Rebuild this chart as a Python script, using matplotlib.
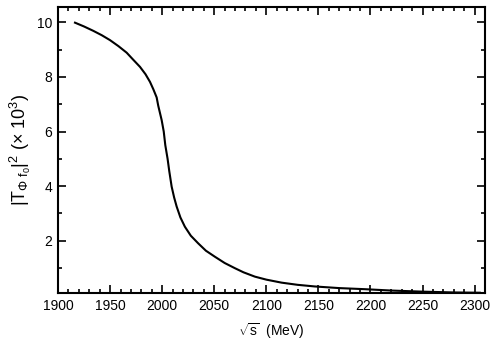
import matplotlib
matplotlib.use("Agg")
import matplotlib.pyplot as plt
from matplotlib.ticker import MultipleLocator

plt.rcParams['font.family'] = ['Liberation Sans', 'DejaVu Sans']
plt.rcParams['mathtext.fontset'] = 'custom'
plt.rcParams['mathtext.rm'] = 'Liberation Sans'
plt.rcParams['mathtext.it'] = 'Liberation Sans:italic'
plt.rcParams['mathtext.sf'] = 'Liberation Sans'

sqrt_s = [1916.3, 1925.0, 1933.9, 1942.0, 1949.9, 1958.0, 1965.9, 1972.0, 1978.7,
          1984.0, 1988.3, 1991.5, 1994.7, 1996.2, 1999.5, 2001.5, 2003.0, 2005.2,
          2006.8, 2009.1, 2011.5, 2013.9, 2017.5, 2021.8, 2027.5, 2034.6, 2042.0,
          2050.6, 2060.0, 2069.8, 2078.0, 2089.0, 2100.0, 2114.6, 2130.0, 2146.5,
          2170.0, 2194.5, 2220.0, 2250.0, 2280.0, 2305.0]
t2 = [9.99, 9.85, 9.69, 9.53, 9.35, 9.13, 8.89, 8.64, 8.37,
      8.10, 7.82, 7.55, 7.25, 6.95, 6.42, 6.00, 5.50, 5.00,
      4.55, 3.98, 3.58, 3.25, 2.85, 2.51, 2.18, 1.90, 1.63,
      1.41, 1.18, 0.99, 0.84, 0.68, 0.57, 0.46, 0.38, 0.32,
      0.26, 0.22, 0.17, 0.13, 0.10, 0.09]

fig = plt.figure(figsize=(4.98, 3.52), dpi=100)
ax = fig.add_axes([0.1165, 0.1676, 0.974 - 0.1165, 0.979 - 0.1676])
ax.plot(sqrt_s, t2, color='black', lw=1.5, solid_joinstyle='round')

ax.set_xlim(1900, 2310)
ax.set_ylim(0.08, 10.55)
ax.xaxis.set_major_locator(MultipleLocator(50))
ax.xaxis.set_minor_locator(MultipleLocator(10))
ax.set_yticks([2, 4, 6, 8, 10])
ax.yaxis.set_minor_locator(MultipleLocator(1))
ax.tick_params(which='both', direction='in', top=True, right=True, width=1.2,
               labelsize=10, pad=4)
ax.tick_params(which='major', length=6)
ax.tick_params(which='minor', length=3)
for s in ax.spines.values():
    s.set_linewidth(1.5)

ax.set_xlabel(r'$\sqrt{\mathrm{s}}$  (MeV)', fontsize=10, labelpad=6)
ax.set_ylabel(r'$|\mathrm{T}_{\mathit{\Phi}\ \mathrm{f}_{0}}|^{2}\ (\times\ 10^{3})$',
              fontsize=13, labelpad=3)

fig.savefig('out.png', dpi=100)
